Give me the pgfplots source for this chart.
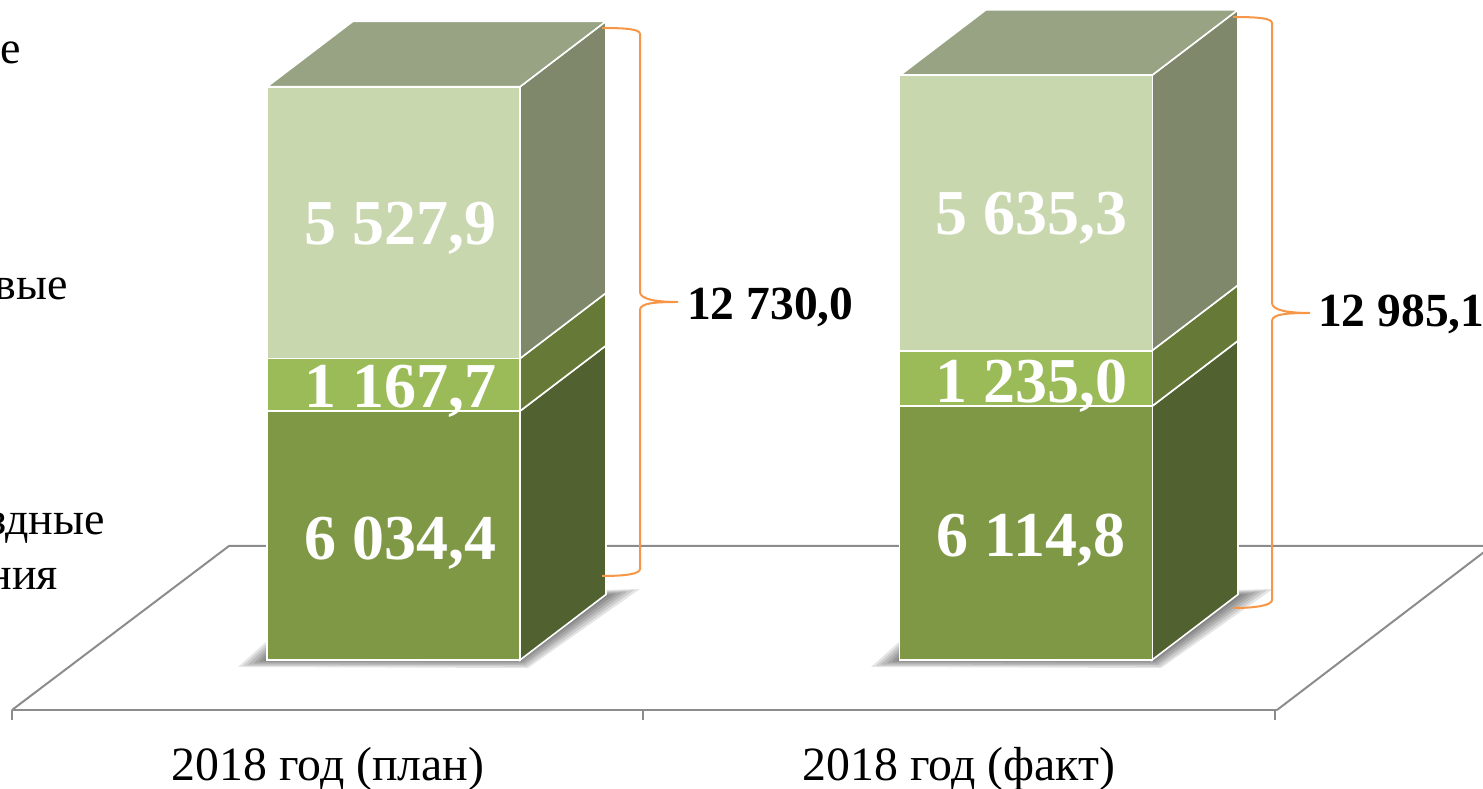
\documentclass[border=0pt]{standalone}
\usepackage{fontspec}
\setmainfont{Liberation Serif}
\usepackage{pgfplots}
\pgfplotsset{compat=1.18}
\definecolor{frontA}{HTML}{7F9846}
\definecolor{frontB}{HTML}{9BBB59}
\definecolor{frontC}{HTML}{C9D7AE}
\definecolor{sideA}{HTML}{526130}
\definecolor{sideB}{HTML}{667937}
\definecolor{sideC}{HTML}{7F886B}
\definecolor{topC}{HTML}{98A384}
\definecolor{floorline}{HTML}{8C8C8C}
\definecolor{brace}{HTML}{F79646}
\newcommand{\fs}[1]{\fontsize{#1}{#1}\selectfont}
\pgfplotsset{base/.style={
  width=1483pt,height=789pt,scale only axis,hide axis,
  xmin=0,xmax=1483,ymin=-2864.8,ymax=14656.9,clip=true},
  shade layer/.style={forget plot,draw=none,fill=black,fill opacity=.1}}
\newcommand{\shadowlayers}[1]{%
  \addplot[shade layer,xshift=#1] coordinates {(238,-155)(267,422)(606,1555)(640,1577)(528,-178)} --cycle;
  \addplot[shade layer,xshift=#1] coordinates {(243,-128)(267,358)(606,1534)(634,1552)(527,-146)} --cycle;
  \addplot[shade layer,xshift=#1] coordinates {(248,-101)(267,293)(606,1513)(628,1526)(525,-115)} --cycle;
  \addplot[shade layer,xshift=#1] coordinates {(254,-74)(267,229)(606,1492)(622,1501)(524,-83)} --cycle;
  \addplot[shade layer,xshift=#1] coordinates {(259,-47)(267,164)(606,1471)(616,1475)(522,-52)} --cycle;
  \addplot[shade layer,xshift=#1] coordinates {(264,-20)(267,100)(606,1450)(610,1450)(521,-20)} --cycle;
}
\begin{document}
\begin{tikzpicture}
\useasboundingbox (0,0) rectangle (1483pt,789pt);
\clip (0,0) rectangle (1483pt,789pt);
% floor, shadows, side and top faces
\begin{axis}[base]
  % floor outline and category axis
  \addplot[forget plot,floorline,line width=2pt] coordinates {(12,-1110)(229,2532)(1492,2532)(1277,-1110)};
  \addplot[forget plot,floorline,line width=2pt] coordinates {(12,-1110)(1277,-1110)};
  \addplot[forget plot,floorline,line width=2pt] coordinates {(12,-1110)(12,-1333)};
  \addplot[forget plot,floorline,line width=2pt] coordinates {(643,-1110)(643,-1333)};
  \addplot[forget plot,floorline,line width=2pt] coordinates {(1275,-1110)(1275,-1333)};
  \shadowlayers{0pt}
  \shadowlayers{633pt}
  % bar 1
  \addplot[forget plot,fill=sideA,draw=white,line width=1.6pt] coordinates {(520,0)(606,1455)(606,6982.9)(520,5527.9)} --cycle;
  \addplot[forget plot,fill=sideB,draw=white,line width=1.6pt] coordinates {(520,5527.9)(606,6982.9)(606,8150.6)(520,6695.6)} --cycle;
  \addplot[forget plot,fill=sideC,draw=white,line width=1.6pt] coordinates {(520,6695.6)(606,8150.6)(606,14185)(520,12730)} --cycle;
  \addplot[forget plot,fill=topC,draw=white,line width=1.6pt] coordinates {(267,12730)(520,12730)(606,14185)(353,14185)} --cycle;
  % bar 2
  \addplot[forget plot,fill=sideA,draw=white,line width=1.6pt] coordinates {(1152,0)(1238,1455)(1238,7090.3)(1152,5635.3)} --cycle;
  \addplot[forget plot,fill=sideB,draw=white,line width=1.6pt] coordinates {(1152,5635.3)(1238,7090.3)(1238,8325.3)(1152,6870.3)} --cycle;
  \addplot[forget plot,fill=sideC,draw=white,line width=1.6pt] coordinates {(1152,6870.3)(1238,8325.3)(1238,14440.1)(1152,12985.1)} --cycle;
  \addplot[forget plot,fill=topC,draw=white,line width=1.6pt] coordinates {(900,12985.1)(1152,12985.1)(1238,14440.1)(986,14440.1)} --cycle;
\end{axis}
% front faces as stacked bars
\begin{axis}[base,ybar stacked,bar width=253pt]
  \addplot[fill=frontA,draw=white,line width=1.8pt] coordinates {(393.5,5527.9)(1026,5635.3)};
  \addplot[fill=frontB,draw=white,line width=1.8pt] coordinates {(393.5,1167.7)(1026,1235.0)};
  \addplot[fill=frontC,draw=white,line width=1.8pt] coordinates {(393.5,6034.4)(1026,6114.8)};
\end{axis}
% annotations, in pixel coordinates of the reference
\begin{scope}[shift={(0,789pt)},x=1pt,y=-1pt]
  \draw[brace,line width=2pt] (602,28) .. controls (625,28) and (640,29) .. (640,34) -- (640,292)
     .. controls (640,299) and (655,302) .. (678,302)
     .. controls (655,302) and (640,303) .. (640,310) -- (640,569)
     .. controls (640,574) and (625,576) .. (602,576);
  \draw[brace,line width=2pt] (1233,17) .. controls (1256,17) and (1272,18) .. (1272,23) -- (1272,303)
     .. controls (1272,310) and (1287,313) .. (1310,313)
     .. controls (1287,313) and (1272,314) .. (1272,321) -- (1272,600)
     .. controls (1272,605) and (1257,608) .. (1234,608);
  \tikzset{lab/.style={anchor=base,inner sep=0pt,text=white,font=\fs{64}\bfseries}}
  \node[lab] at (400,245) {5 527,9};
  \node[lab] at (400,408) {1 167,7};
  \node[lab] at (400,560) {6 034,4};
  \node[lab] at (1031,235) {5 635,3};
  \node[lab] at (1031,403) {1 235,0};
  \node[lab] at (1031,557) {6 114,8};
  \node[anchor=base west,inner sep=0pt,font=\fs{47.5}\bfseries] at (687,320) {12 730,0};
  \node[anchor=base west,inner sep=0pt,font=\fs{47.5}\bfseries] at (1318,327) {12 985,1};
  \node[anchor=base,inner sep=0pt,font=\fs{47.8}] at (328,781) {2018 год (план)};
  \node[anchor=base,inner sep=0pt,font=\fs{47.8}] at (959,781) {2018 год (факт)};
  \node[anchor=base east,inner sep=0pt,font=\fs{46}] at (21,64) {е};
  \node[anchor=base east,inner sep=0pt,font=\fs{46}] at (68,300) {вые};
  \node[anchor=base east,inner sep=0pt,font=\fs{46}] at (105,535) {здные};
  \node[anchor=base east,inner sep=0pt,font=\fs{46}] at (58,590) {ния};
\end{scope}
\end{tikzpicture}
\end{document}
